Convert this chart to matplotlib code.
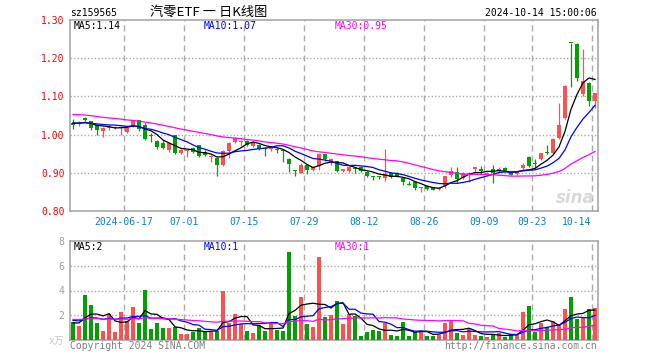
import math
import numpy as np
import pandas as pd
import matplotlib
matplotlib.use("Agg")
import matplotlib.pyplot as plt
from matplotlib.transforms import blended_transform_factory

plt.rcParams["lines.scale_dashes"] = False

# ---------------- data ----------------
holidays = ["2024-06-10", "2024-09-16", "2024-09-17", "2024-10-01", "2024-10-02",
            "2024-10-03", "2024-10-04", "2024-10-07"]
dates = [d.strftime("%Y-%m-%d") for d in pd.bdate_range("2024-06-03", "2024-10-14")
         if d.strftime("%Y-%m-%d") not in holidays]

tick_dates = ["2024-06-17", "2024-07-01", "2024-07-15", "2024-07-29", "2024-08-12",
              "2024-08-26", "2024-09-09", "2024-09-23", "2024-10-14"]
tick_labels = ["2024-06-17", "07-01", "07-15", "07-29", "08-12", "08-26", "09-09",
               "09-23", "10-14"]

opens = [1.030, 1.028, 1.044, 1.035, 1.025, 1.010, 1.017, 1.018, 1.018, 1.007,
         1.023, 1.037, 1.025, 0.998, 0.983, 0.978, 0.960, 1.000, 0.953, 0.958,
         0.965, 0.972, 0.955, 0.941, 0.940, 0.921, 0.957, 0.981, 0.980, 0.983,
         0.970, 0.974, 0.966, 0.961, 0.963, 0.958, 0.937, 0.905, 0.900, 0.920,
         0.907, 0.918, 0.948, 0.929, 0.930, 0.906, 0.904, 0.911, 0.916, 0.902,
         0.891, 0.890, 0.887, 0.900, 0.900, 0.887, 0.871, 0.876, 0.861, 0.865,
         0.862, 0.858, 0.865, 0.895, 0.901, 0.886, 0.897, 0.910, 0.909, 0.896,
         0.910, 0.905, 0.913, 0.902, 0.897, 0.912, 0.942, 0.925, 0.935, 0.953,
         0.951, 0.990, 1.044, 1.240, 1.237, 1.105, 1.136, 1.088]
highs = [1.042, 1.035, 1.046, 1.036, 1.027, 1.020, 1.024, 1.023, 1.022, 1.020,
         1.036, 1.038, 1.030, 1.004, 0.985, 0.985, 0.980, 1.000, 0.963, 0.962,
         0.968, 0.974, 0.960, 0.947, 0.942, 0.960, 0.981, 0.993, 0.986, 0.985,
         0.982, 0.975, 0.967, 0.967, 0.965, 0.959, 0.940, 0.907, 0.925, 0.921,
         0.918, 0.950, 0.950, 0.938, 0.932, 0.910, 0.917, 0.913, 0.918, 0.905,
         0.892, 0.892, 0.961, 0.902, 0.901, 0.888, 0.878, 0.878, 0.864, 0.867,
         0.864, 0.863, 0.892, 0.914, 0.914, 0.902, 0.902, 0.915, 0.919, 0.902,
         0.920, 0.914, 0.915, 0.904, 0.905, 0.925, 0.945, 0.935, 0.952, 0.972,
         0.990, 1.083, 1.130, 1.240, 1.240, 1.225, 1.138, 1.110]
lows = [1.015, 1.023, 1.036, 1.013, 0.998, 0.995, 1.012, 1.015, 1.000, 1.005,
        1.020, 1.010, 0.986, 0.981, 0.962, 0.963, 0.955, 0.950, 0.950, 0.942,
        0.952, 0.942, 0.944, 0.928, 0.891, 0.918, 0.940, 0.978, 0.970, 0.970,
        0.968, 0.960, 0.945, 0.958, 0.953, 0.928, 0.902, 0.891, 0.899, 0.898,
        0.905, 0.907, 0.930, 0.920, 0.902, 0.903, 0.902, 0.900, 0.903, 0.889,
        0.881, 0.883, 0.878, 0.887, 0.888, 0.868, 0.869, 0.854, 0.849, 0.856,
        0.855, 0.856, 0.861, 0.890, 0.874, 0.884, 0.876, 0.900, 0.897, 0.893,
        0.874, 0.900, 0.901, 0.893, 0.895, 0.910, 0.915, 0.913, 0.933, 0.950,
        0.949, 0.989, 1.042, 1.124, 1.140, 1.100, 1.075, 1.070]
closes = [1.025, 1.030, 1.038, 1.016, 1.012, 1.017, 1.021, 1.021, 1.019, 1.017,
          1.035, 1.014, 0.988, 0.996, 0.967, 0.964, 0.977, 0.951, 0.960, 0.959,
          0.954, 0.944, 0.946, 0.943, 0.920, 0.957, 0.979, 0.990, 0.981, 0.972,
          0.979, 0.963, 0.962, 0.965, 0.960, 0.956, 0.922, 0.904, 0.921, 0.907,
          0.914, 0.948, 0.935, 0.935, 0.904, 0.907, 0.915, 0.910, 0.905, 0.891,
          0.889, 0.888, 0.898, 0.889, 0.890, 0.876, 0.869, 0.861, 0.862, 0.858,
          0.856, 0.861, 0.891, 0.905, 0.884, 0.900, 0.900, 0.914, 0.905, 0.900,
          0.900, 0.911, 0.904, 0.895, 0.902, 0.920, 0.917, 0.923, 0.951, 0.952,
          0.988, 1.025, 1.127, 1.239, 1.147, 1.140, 1.088, 1.108]
volumes = [1.49, 1.17, 3.63, 2.83, 1.41, 0.75, 2.10, 0.69, 2.27, 1.57,
           2.67, 1.41, 4.03, 0.91, 1.41, 1.01, 1.01, 1.07, 0.53, 0.53,
           0.69, 1.01, 0.69, 0.69, 0.75, 3.97, 1.39, 2.10, 1.33, 0.75,
           0.59, 1.23, 0.75, 1.36, 0.83, 0.75, 7.07, 1.97, 3.47, 1.31,
           1.07, 6.67, 1.87, 2.03, 3.17, 1.31, 2.10, 1.97, 0.35, 0.67,
           0.83, 0.75, 1.39, 0.43, 0.35, 1.47, 0.35, 0.67, 0.67, 0.35,
           0.35, 0.43, 1.39, 1.55, 0.59, 0.43, 0.91, 0.43, 0.35, 0.27,
           0.43, 0.59, 0.27, 0.51, 0.43, 2.27, 2.75, 0.67, 1.39, 1.07,
           1.55, 1.31, 2.51, 3.45, 1.71, 1.84, 2.55, 2.59]

# closes / volumes of the 29 sessions before the window (moving-average warm-up)
prior_closes = [1.05, 1.06, 1.07, 1.08, 1.075, 1.07, 1.065, 1.07, 1.08, 1.075,
                1.07, 1.065, 1.06, 1.055, 1.06, 1.065, 1.06, 1.055, 1.05, 1.04,
                1.035, 1.03, 1.025, 1.03, 1.035, 1.03, 1.028, 1.032, 1.035]
prior_volumes = [1.5, 2.2, 1.8, 1.3, 2.5, 1.6, 1.2, 1.9, 2.0, 1.4,
                 1.7, 1.5, 2.3, 1.6, 1.8, 1.2, 1.9, 1.6, 1.5, 1.9,
                 1.6, 2.1, 1.9, 1.5, 1.9, 1.2, 1.6, 1.3, 1.4]

ma_periods = [5, 10, 30]
ma_colors = ["#000000", "#0000ff", "#ff00ff"]
RED = "#ff5050"
GREEN = "#00a000"
GRID = "#aaaaaa"

# ---------------- helpers ----------------
def moving_avg(prior, values, n):
    full = np.array(list(prior) + list(values), dtype=float)
    out = []
    off = len(prior)
    for i in range(len(values)):
        j = off + i
        out.append(full[j - n + 1:j + 1].mean())
    return np.array(out)

def trunc(v, d):
    f = 10 ** d
    return math.floor(v * f + 1e-9) / f

N = len(closes)
x = np.arange(N)
o = np.array(opens); h = np.array(highs); l = np.array(lows); c = np.array(closes)
v = np.array(volumes)
colors = [RED if cc > oo else GREEN for oo, cc in zip(o, c)]
tick_idx = [dates.index(d) for d in tick_dates]

W, H = 660, 360
fig = plt.figure(figsize=(W / 100, H / 100), dpi=100)
fig.patch.set_facecolor("white")

def fpos(left, top, right, bottom):
    return [left / W, 1 - bottom / H, (right - left) / W, (bottom - top) / H]

def ftext(px, py, s, **kw):
    fig.text(px / W, 1 - py / H, s, **kw)

MONO = ["DejaVu Sans Mono", "Noto Sans CJK SC"]
FS = 7

ax = fig.add_axes(fpos(70, 20, 598, 211))
axv = fig.add_axes(fpos(70, 240.7, 598, 340.3))

for a in (ax, axv):
    a.set_xlim(-0.5, N - 0.5)
    for s in a.spines.values():
        s.set_color("#a0a0a0")
        s.set_linewidth(1.1)
    a.tick_params(length=0)
    a.set_xticks([])
    for ti in tick_idx:
        a.axvline(ti - 0.5, color=GRID, lw=1.0, ls=(0, (4.3, 2.9)), zorder=0)

# ---- price panel ----
ax.set_ylim(0.80, 1.30)
pticks = [0.80, 0.90, 1.00, 1.10, 1.20, 1.30]
ax.set_yticks(pticks)
ax.set_yticklabels(["%.2f" % t for t in pticks], color="#ff0000",
                   fontfamily=MONO, fontsize=FS)
ax.tick_params(axis="y", pad=4)
for t in pticks[1:-1]:
    ax.axhline(t, color=GRID, lw=1.0, ls=(0, (1.0, 1.5)), zorder=0)

ax.vlines(x, l, h, colors=colors, lw=0.9, zorder=3)
body_h = np.maximum(np.abs(c - o), 0.0027)
ax.bar(x, body_h, bottom=np.minimum(o, c), width=0.72, color=colors,
       linewidth=0, zorder=4)

price_mas = []
for n, col in zip(ma_periods, ma_colors):
    m = moving_avg(prior_closes, closes, n)
    price_mas.append(m)
    ax.plot(x, m, color=col, lw=0.9, zorder=5)

# ---- volume panel ----
axv.set_ylim(0, 8)
vticks = [2, 4, 6, 8]
axv.set_yticks([0] + vticks)
axv.set_yticklabels(["x万"] + [str(t) for t in vticks], color="#a0a0a0",
                    fontfamily=MONO, fontsize=FS)
axv.get_yticklabels()[0].set_color("#c8c8c8")
axv.tick_params(axis="y", pad=4)
for t in [2, 4, 6]:
    axv.axhline(t, color=GRID, lw=1.0, ls=(0, (1.0, 1.5)), zorder=0)
axv.bar(x, v, width=0.82, color=colors, linewidth=0, zorder=3)
vol_mas = []
for n, col in zip(ma_periods, ma_colors):
    m = moving_avg(prior_volumes, volumes, n)
    vol_mas.append(m)
    axv.plot(x, m, color=col, lw=0.9, zorder=5)

# ---- date labels ----
tr = blended_transform_factory(ax.transData, fig.transFigure)
for k, (ti, lab) in enumerate(zip(tick_idx, tick_labels)):
    if k == len(tick_idx) - 1:
        ax.text(ti - 0.6, 1 - 222 / H, lab, transform=tr, ha="right", va="center",
                color="#0a7fd0", fontfamily=MONO, fontsize=FS)
    else:
        ax.text(ti - 0.5, 1 - 222 / H, lab, transform=tr, ha="center", va="center",
                color="#0a7fd0", fontfamily=MONO, fontsize=FS)

# ---- header texts ----
ftext(70, 12.5, "sz159565", ha="left", va="center", fontfamily=MONO, fontsize=FS,
      color="black")
ftext(150, 12, "汽零ETF 一 日K线图", ha="left", va="center",
      fontfamily=["Noto Sans CJK SC", "DejaVu Sans"], fontsize=9.5, color="black")
ftext(597, 12.5, "2024-10-14 15:00:06", ha="right", va="center", fontfamily=MONO,
      fontsize=FS, color="black")

ma_x = [74, 204, 335]
for n, col, m, px in zip(ma_periods, ma_colors, price_mas, ma_x):
    ftext(px, 26, "MA%d:%.2f" % (n, trunc(m[-1], 2)), ha="left", va="center",
          fontfamily=MONO, fontsize=FS, color=col)
for n, col, m, px in zip(ma_periods, ma_colors, vol_mas, ma_x):
    ftext(px, 246.5, "MA%d:%d" % (n, int(math.floor(m[-1]))), ha="left",
          va="center", fontfamily=MONO, fontsize=FS, color=col)

# ---- footer ----
ftext(70, 346, "Copyright 2024 SINA.COM", ha="left", va="center", fontfamily=MONO,
      fontsize=FS, color="#808080")
ftext(597, 346, "http://finance.sina.com.cn", ha="right", va="center",
      fontfamily=MONO, fontsize=FS, color="#808080")

# watermark
ftext(595, 198, "sina", ha="right", va="center", fontfamily="DejaVu Sans",
      fontsize=12, fontweight="bold", fontstyle="italic", color="#d9d9d9", zorder=1)

fig.savefig("out.png", dpi=100, facecolor="white")
